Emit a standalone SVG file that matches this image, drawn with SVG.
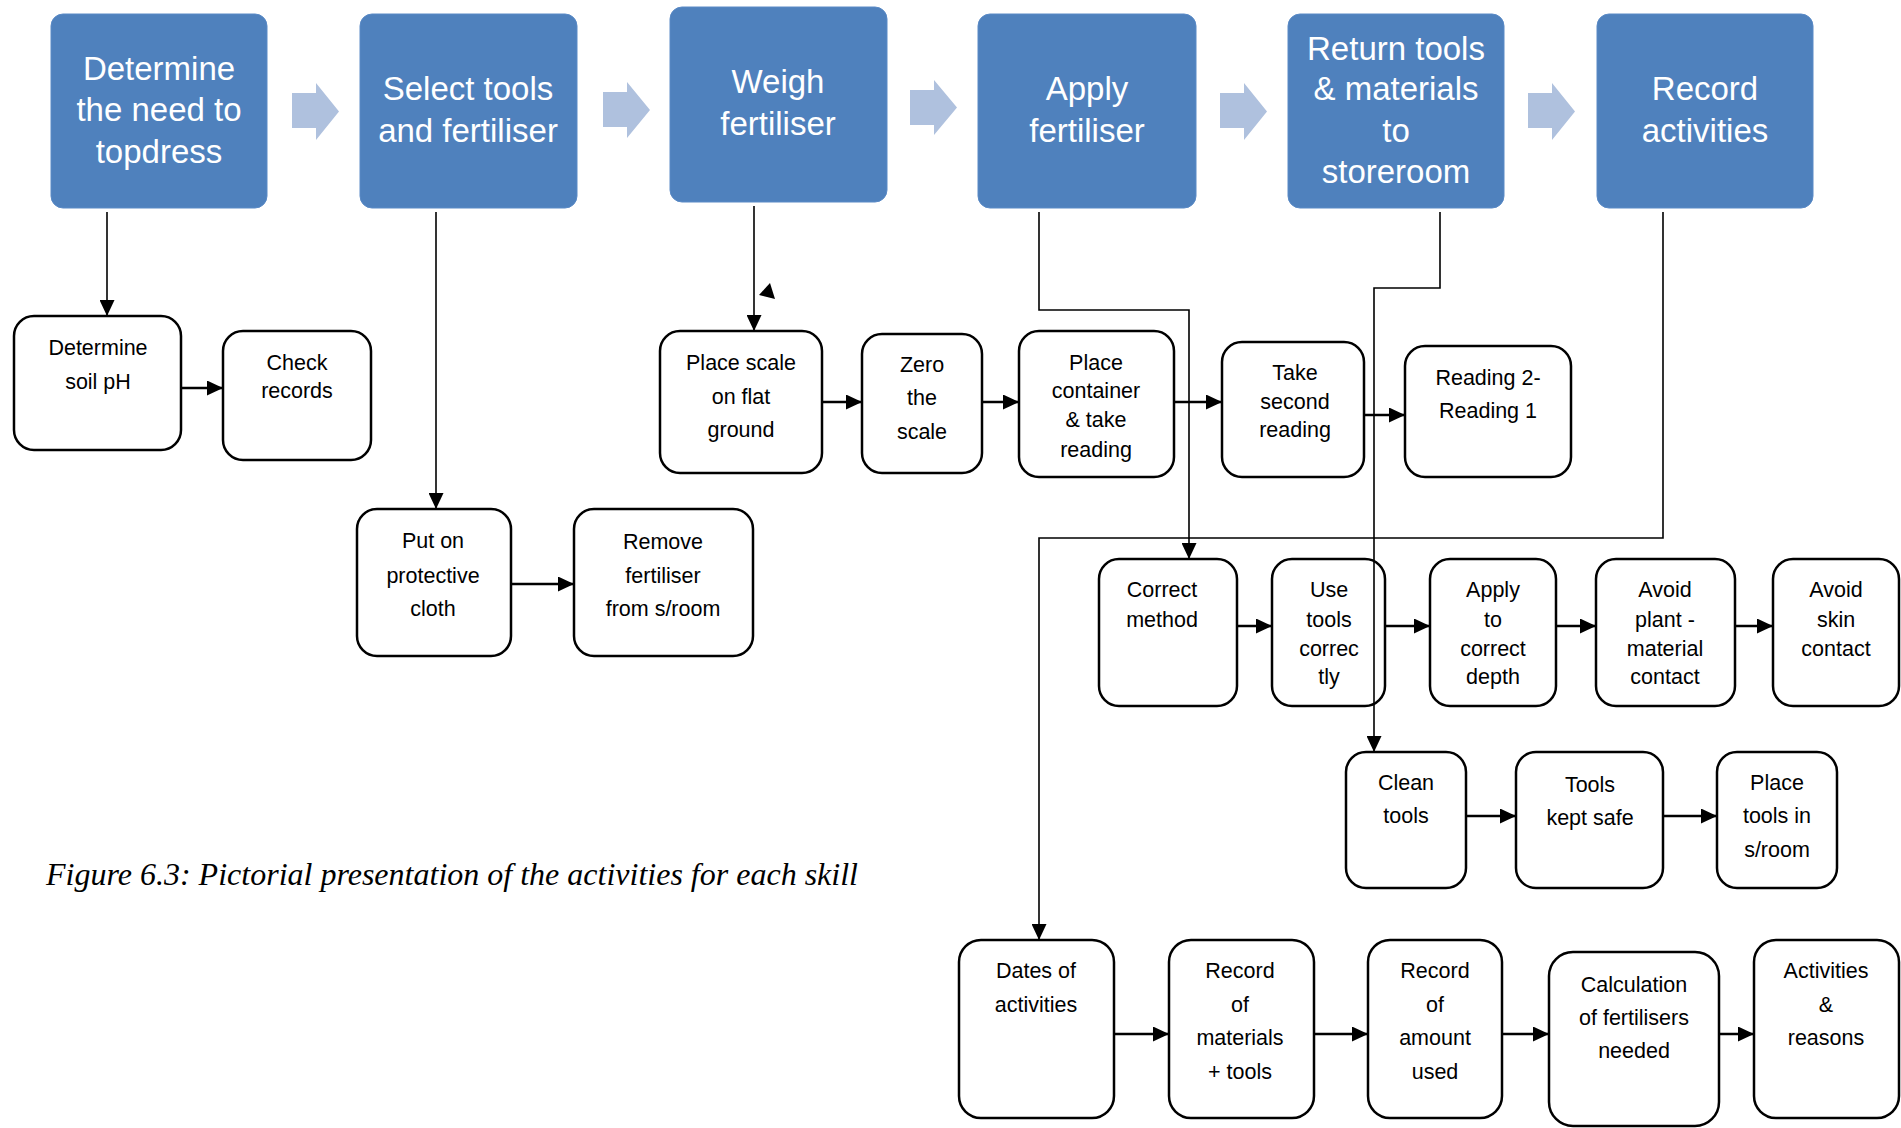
<svg xmlns="http://www.w3.org/2000/svg" width="1901" height="1128" viewBox="0 0 1901 1128">
<style>
.bb{fill:#4f81bd;stroke:#5a8ac6;stroke-width:1}
.bt{font-family:"Liberation Sans",Arial,sans-serif;font-size:33px;fill:#ffffff;text-anchor:middle}
.wb{fill:#ffffff;stroke:#000000;stroke-width:2.5}
.wt{font-family:"Liberation Sans",Arial,sans-serif;font-size:21.5px;fill:#000000;text-anchor:middle}
.ba{fill:#afc1de}
.cn{fill:none;stroke:#000000;stroke-width:1.6}
.ch{fill:none;stroke:#000000;stroke-width:2.6}
.cap{font-family:"Liberation Serif","Times New Roman",serif;font-style:italic;font-size:32px;fill:#000000}
</style>
<defs>
<marker id="ah" markerUnits="userSpaceOnUse" markerWidth="16" markerHeight="15" refX="16" refY="7.5" orient="auto">
<path d="M0,0 L16,7.5 L0,15 Z" fill="#000000"/>
</marker>
</defs>
<rect width="1901" height="1128" fill="#ffffff"/>

<g id="block-arrows">
<path class="ba" d="M292,93 H316 V83 L339,111.5 L316,140 V128 H292 Z"/>
<path class="ba" d="M603,92 H627 V82 L650,110 L627,138 V127 H603 Z"/>
<path class="ba" d="M910,90 H934 V80 L957,107.5 L934,135 V125 H910 Z"/>
<path class="ba" d="M1220,93 H1244 V83 L1267,111.5 L1244,140 V128 H1220 Z"/>
<path class="ba" d="M1528,93 H1552 V83 L1575,111.5 L1552,140 V128 H1528 Z"/>
</g>

<g id="n-determine-need">
<rect class="bb" x="51" y="14" width="216" height="194" rx="12"/>
<text class="bt" x="159" y="80">Determine</text>
<text class="bt" x="159" y="121">the need to</text>
<text class="bt" x="159" y="163">topdress</text>
</g>
<g id="n-select-tools">
<rect class="bb" x="360" y="14" width="217" height="194" rx="12"/>
<text class="bt" x="468" y="100">Select tools</text>
<text class="bt" x="468" y="142">and fertiliser</text>
</g>
<g id="n-weigh">
<rect class="bb" x="670" y="7" width="217" height="195" rx="12"/>
<text class="bt" x="778" y="93">Weigh</text>
<text class="bt" x="778" y="135">fertiliser</text>
</g>
<g id="n-apply">
<rect class="bb" x="978" y="14" width="218" height="194" rx="12"/>
<text class="bt" x="1087" y="100">Apply</text>
<text class="bt" x="1087" y="142">fertiliser</text>
</g>
<g id="n-return">
<rect class="bb" x="1288" y="14" width="216" height="194" rx="12"/>
<text class="bt" x="1396" y="60">Return tools</text>
<text class="bt" x="1396" y="100">&amp; materials</text>
<text class="bt" x="1396" y="142">to</text>
<text class="bt" x="1396" y="183">storeroom</text>
</g>
<g id="n-record">
<rect class="bb" x="1597" y="14" width="216" height="194" rx="12"/>
<text class="bt" x="1705" y="100">Record</text>
<text class="bt" x="1705" y="142">activities</text>
</g>

<g id="n-soil-ph">
<rect class="wb" x="14" y="316" width="167" height="134" rx="20"/>
<text class="wt" x="98" y="355">Determine</text>
<text class="wt" x="98" y="389">soil pH</text>
</g>
<g id="n-check-records">
<rect class="wb" x="223" y="331" width="148" height="129" rx="20"/>
<text class="wt" x="297" y="370">Check</text>
<text class="wt" x="297" y="398">records</text>
</g>
<g id="n-put-on">
<rect class="wb" x="357" y="509" width="154" height="147" rx="20"/>
<text class="wt" x="433" y="548">Put on</text>
<text class="wt" x="433" y="583">protective</text>
<text class="wt" x="433" y="616">cloth</text>
</g>
<g id="n-remove">
<rect class="wb" x="574" y="509" width="179" height="147" rx="20"/>
<text class="wt" x="663" y="549">Remove</text>
<text class="wt" x="663" y="583">fertiliser</text>
<text class="wt" x="663" y="616">from s/room</text>
</g>
<g id="n-place-scale">
<rect class="wb" x="660" y="331" width="162" height="142" rx="20"/>
<text class="wt" x="741" y="370">Place scale</text>
<text class="wt" x="741" y="404">on flat</text>
<text class="wt" x="741" y="437">ground</text>
</g>
<g id="n-zero">
<rect class="wb" x="862" y="334" width="120" height="139" rx="20"/>
<text class="wt" x="922" y="372">Zero</text>
<text class="wt" x="922" y="405">the</text>
<text class="wt" x="922" y="439">scale</text>
</g>
<g id="n-place-container">
<rect class="wb" x="1019" y="331" width="155" height="146" rx="20"/>
<text class="wt" x="1096" y="370">Place</text>
<text class="wt" x="1096" y="398">container</text>
<text class="wt" x="1096" y="427">&amp; take</text>
<text class="wt" x="1096" y="457">reading</text>
</g>
<g id="n-second-reading">
<rect class="wb" x="1222" y="342" width="142" height="135" rx="20"/>
<text class="wt" x="1295" y="380">Take</text>
<text class="wt" x="1295" y="409">second</text>
<text class="wt" x="1295" y="437">reading</text>
</g>
<g id="n-reading-diff">
<rect class="wb" x="1405" y="346" width="166" height="131" rx="20"/>
<text class="wt" x="1488" y="385">Reading 2-</text>
<text class="wt" x="1488" y="418">Reading 1</text>
</g>

<g id="n-correct-method">
<rect class="wb" x="1099" y="559" width="138" height="147" rx="20"/>
<text class="wt" x="1162" y="597">Correct</text>
<text class="wt" x="1162" y="627">method</text>
</g>
<g id="n-use-tools">
<rect class="wb" x="1272" y="559" width="113" height="147" rx="20"/>
<text class="wt" x="1329" y="597">Use</text>
<text class="wt" x="1329" y="627">tools</text>
<text class="wt" x="1329" y="656">correc</text>
<text class="wt" x="1329" y="684">tly</text>
</g>
<g id="n-apply-depth">
<rect class="wb" x="1430" y="559" width="126" height="147" rx="20"/>
<text class="wt" x="1493" y="597">Apply</text>
<text class="wt" x="1493" y="627">to</text>
<text class="wt" x="1493" y="656">correct</text>
<text class="wt" x="1493" y="684">depth</text>
</g>
<g id="n-avoid-plant">
<rect class="wb" x="1596" y="559" width="139" height="147" rx="20"/>
<text class="wt" x="1665" y="597">Avoid</text>
<text class="wt" x="1665" y="627">plant -</text>
<text class="wt" x="1665" y="656">material</text>
<text class="wt" x="1665" y="684">contact</text>
</g>
<g id="n-avoid-skin">
<rect class="wb" x="1773" y="559" width="126" height="147" rx="20"/>
<text class="wt" x="1836" y="597">Avoid</text>
<text class="wt" x="1836" y="627">skin</text>
<text class="wt" x="1836" y="656">contact</text>
</g>

<g id="n-clean-tools">
<rect class="wb" x="1346" y="752" width="120" height="136" rx="20"/>
<text class="wt" x="1406" y="790">Clean</text>
<text class="wt" x="1406" y="823">tools</text>
</g>
<g id="n-tools-safe">
<rect class="wb" x="1516" y="752" width="147" height="136" rx="20"/>
<text class="wt" x="1590" y="792">Tools</text>
<text class="wt" x="1590" y="825">kept safe</text>
</g>
<g id="n-place-tools">
<rect class="wb" x="1717" y="752" width="120" height="136" rx="20"/>
<text class="wt" x="1777" y="790">Place</text>
<text class="wt" x="1777" y="823">tools in</text>
<text class="wt" x="1777" y="857">s/room</text>
</g>

<g id="n-dates">
<rect class="wb" x="959" y="940" width="155" height="178" rx="22"/>
<text class="wt" x="1036" y="978">Dates of</text>
<text class="wt" x="1036" y="1012">activities</text>
</g>
<g id="n-record-materials">
<rect class="wb" x="1169" y="940" width="145" height="178" rx="22"/>
<text class="wt" x="1240" y="978">Record</text>
<text class="wt" x="1240" y="1012">of</text>
<text class="wt" x="1240" y="1045">materials</text>
<text class="wt" x="1240" y="1079">+ tools</text>
</g>
<g id="n-record-amount">
<rect class="wb" x="1368" y="940" width="134" height="178" rx="22"/>
<text class="wt" x="1435" y="978">Record</text>
<text class="wt" x="1435" y="1012">of</text>
<text class="wt" x="1435" y="1045">amount</text>
<text class="wt" x="1435" y="1079">used</text>
</g>
<g id="n-calculation">
<rect class="wb" x="1549" y="952" width="170" height="174" rx="24"/>
<text class="wt" x="1634" y="992">Calculation</text>
<text class="wt" x="1634" y="1025">of fertilisers</text>
<text class="wt" x="1634" y="1058">needed</text>
</g>
<g id="n-activities">
<rect class="wb" x="1754" y="940" width="145" height="178" rx="22"/>
<text class="wt" x="1826" y="978">Activities</text>
<text class="wt" x="1826" y="1012">&amp;</text>
<text class="wt" x="1826" y="1045">reasons</text>
</g>

<g id="connectors">
<path class="cn" d="M107,212 V316" marker-end="url(#ah)"/>
<path class="ch" d="M181,388 H223" marker-end="url(#ah)"/>
<path class="cn" d="M436,212 V509" marker-end="url(#ah)"/>
<path class="ch" d="M511,584 H574" marker-end="url(#ah)"/>
<path class="cn" d="M754,206 V331" marker-end="url(#ah)"/>
<polygon points="770,283 759,295 775,299" fill="#000000"/>
<path class="ch" d="M822,402 H862" marker-end="url(#ah)"/>
<path class="ch" d="M982,402 H1019" marker-end="url(#ah)"/>
<path class="ch" d="M1174,402 H1222" marker-end="url(#ah)"/>
<path class="ch" d="M1364,415 H1405" marker-end="url(#ah)"/>
<path class="cn" d="M1039,212 V310 H1189 V559" marker-end="url(#ah)"/>
<path class="cn" d="M1440,212 V288 H1374 V752" marker-end="url(#ah)"/>
<path class="cn" d="M1663,212 V538 H1039 V940" marker-end="url(#ah)"/>
<path class="ch" d="M1237,626 H1272" marker-end="url(#ah)"/>
<path class="ch" d="M1385,626 H1430" marker-end="url(#ah)"/>
<path class="ch" d="M1556,626 H1596" marker-end="url(#ah)"/>
<path class="ch" d="M1735,626 H1773" marker-end="url(#ah)"/>
<path class="ch" d="M1466,816 H1516" marker-end="url(#ah)"/>
<path class="ch" d="M1663,816 H1717" marker-end="url(#ah)"/>
<path class="ch" d="M1114,1034 H1169" marker-end="url(#ah)"/>
<path class="ch" d="M1314,1034 H1368" marker-end="url(#ah)"/>
<path class="ch" d="M1502,1034 H1549" marker-end="url(#ah)"/>
<path class="ch" d="M1719,1034 H1754" marker-end="url(#ah)"/>
</g>

<text class="cap" x="46" y="885" textLength="812" lengthAdjust="spacingAndGlyphs">Figure 6.3: Pictorial presentation of the activities for each skill</text>
</svg>
